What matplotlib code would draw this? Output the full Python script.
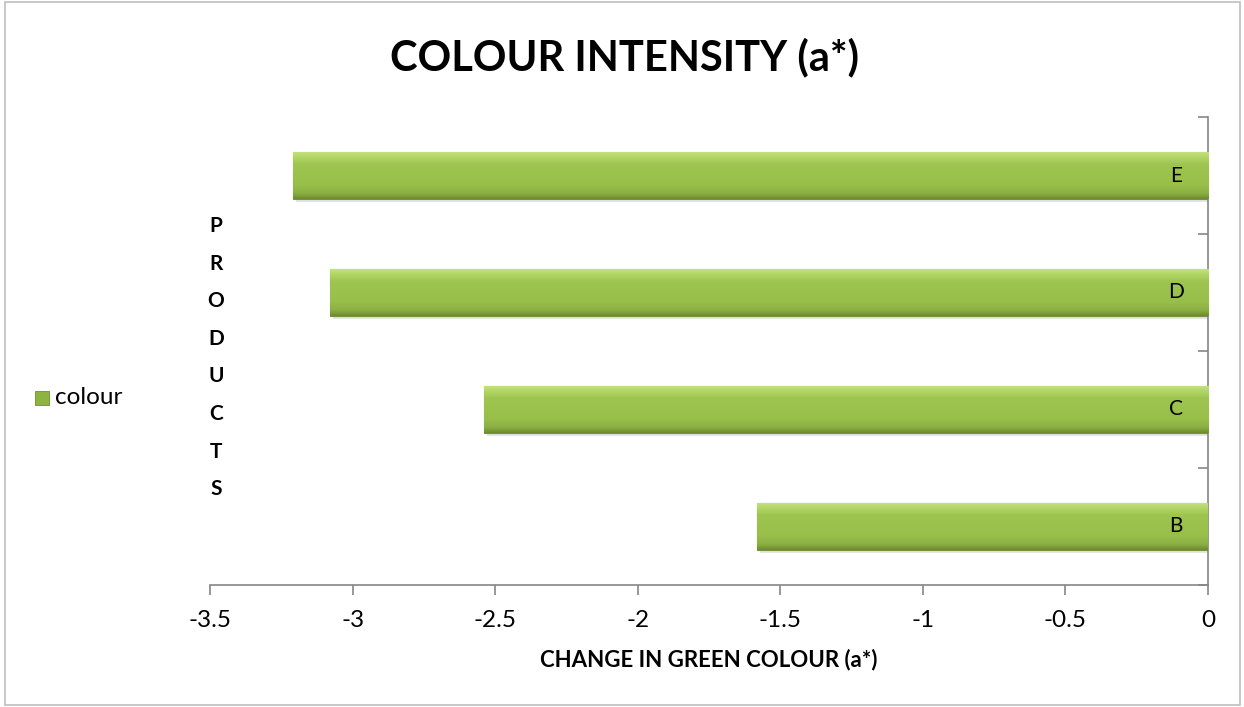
import matplotlib.pyplot as plt
import numpy as np
from matplotlib.colors import LinearSegmentedColormap
from matplotlib.patches import Rectangle

plt.rcParams['font.family'] = ['Lato', 'DejaVu Sans']

products = ['B', 'C', 'D', 'E']
change_a = [-1.58, -2.54, -3.08, -3.21]
x_ticks = [-3.5, -3, -2.5, -2, -1.5, -1, -0.5, 0]
x_tick_labels = ['-3.5', '-3', '-2.5', '-2', '-1.5', '-1', '-0.5', '0']

fig = plt.figure(figsize=(12.44, 7.07), dpi=100)
ax = fig.add_axes([0.1688, 0.1726, 0.8023, 0.6619])

# outer chart frame
fig.patches.append(Rectangle((0.004, 0.003), 0.993, 0.994, transform=fig.transFigure,
                             fill=False, edgecolor='#bfbfbf', linewidth=1.2))

bar_h = 0.4
y = np.arange(len(products))
bars = ax.barh(y, change_a, height=bar_h, color='#9bbb59', edgecolor='#76923c', linewidth=0.8, zorder=3)

# vertical gradient fill, light rim on top, darker rim at the bottom
grad = LinearSegmentedColormap.from_list('g', [(0.0, '#6e8c30'), (0.12, '#8cb043'),
                                              (0.3, '#98bf4a'), (0.75, '#9fc551'),
                                              (0.9, '#b3d667'), (1.0, '#c3e07e')])
for b in bars:
    x0, y0 = b.get_x(), b.get_y()
    w, h = b.get_width(), b.get_height()
    # soft shadow under the bar
    ax.add_patch(Rectangle((x0 + 0.01, y0 - 0.03), w, h, facecolor='#000000', alpha=0.10,
                           edgecolor='none', zorder=2))
    im = ax.imshow(np.linspace(0, 1, 64).reshape(-1, 1), cmap=grad, aspect='auto',
                   extent=(x0, x0 + w, y0, y0 + h), origin='lower', zorder=3.5)
    im.set_clip_path(b)

for yi, name in zip(y, products):
    ax.annotate(name, xy=(0, yi), xytext=(-23, 0), textcoords='offset points',
                ha='center', va='center', fontsize=15, zorder=5)

ax.set_xlim(-3.5, 0)
ax.set_ylim(-0.5, len(products) - 0.5)
ax.set_xticks(x_ticks)
ax.set_xticklabels(x_tick_labels, fontsize=17.5)
ax.set_yticks(np.arange(len(products) + 1) - 0.5)
ax.set_yticklabels([])
ax.yaxis.tick_right()
ax.tick_params(axis='y', direction='in', length=7, color='#868686', width=1.2)
ax.tick_params(axis='x', direction='out', length=7, color='#868686', width=1.2, pad=11)

for s in ['top', 'left']:
    ax.spines[s].set_visible(False)
for s in ['bottom', 'right']:
    ax.spines[s].set_color('#868686')
    ax.spines[s].set_linewidth(1.2)
ax.set_xlabel('CHANGE IN GREEN COLOUR (a*)', fontsize=16, fontweight='bold', labelpad=13)

fig.text(0.502, 0.919, 'COLOUR INTENSITY (a*)', fontsize=30, fontweight='bold',
         ha='center', va='center')

# stacked axis title
for i, ch in enumerate('PRODUCTS'):
    fig.text(0.1735, 1 - (226 + i * 37.6) / 707, ch, fontsize=15, fontweight='bold',
             ha='center', va='center')

# legend entry
fig.patches.append(Rectangle((35 / 1244, 1 - 405 / 707), 14 / 1244, 14 / 707, transform=fig.transFigure,
                             facecolor='#8db342', edgecolor='#6f8f2c', linewidth=0.6))
fig.text(55 / 1244, 1 - 398 / 707, 'colour', fontsize=17.5, ha='left', va='center')

fig.savefig('out.png', dpi=100)
